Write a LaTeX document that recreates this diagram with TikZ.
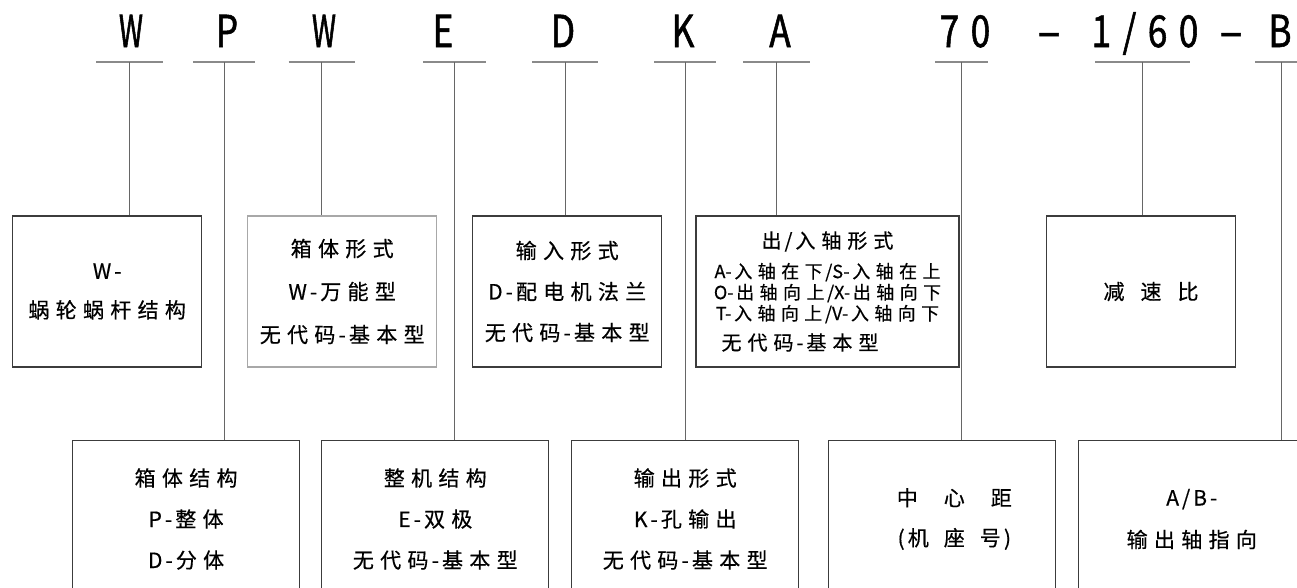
\documentclass[tikz,border=0pt]{standalone}
\usepackage{fontspec}
\usetikzlibrary{calc}
\newfontfamily\cjk[FakeBold=0.5]{Noto Sans CJK SC}
\newfontfamily\codefont[FakeStretch=0.8,FakeBold=1.2]{Noto Sans CJK SC}
\newfontfamily\codefontW[FakeStretch=0.62,FakeBold=1.2]{Noto Sans CJK SC}
\newfontfamily\codefontdash[FakeStretch=1.7,FakeBold=0.8]{Noto Sans CJK SC}
\newfontfamily\codefontsp[FakeStretch=0.8,FakeBold=1.2,LetterSpace=26]{Noto Sans CJK SC}
\definecolor{boxgray}{HTML}{3C3C3C}
\definecolor{lightbox}{HTML}{A8A8A8}
\definecolor{ulgray}{HTML}{8A8A8A}
\definecolor{vlgray}{HTML}{666666}
\newcount\cjkcnt
\cjkcnt="4E00
\loop
  \XeTeXcharclass\cjkcnt=1
  \advance\cjkcnt by 1
\ifnum\cjkcnt<"A000 \repeat
\XeTeXinterchartokenstate=1
\XeTeXinterchartoks 1 1 = {\kern0.3em}
\XeTeXinterchartoks 0 1 = {\kern0.15em}
\XeTeXinterchartoks 1 0 = {\kern0.15em}
\newcommand{\lk}{\kern3pt}
\begin{document}
\begin{tikzpicture}[x=1pt,y=-1pt,
  box/.style={draw=boxgray, line width=1.1pt, inner sep=0pt, align=center,
    font=\cjk\fontsize{21}{41}\selectfont},
  topbox/.style={box, minimum height=151pt},
  botbox/.style={box, minimum width=227pt, minimum height=157pt},
  code/.style={anchor=base, inner sep=0pt, font=\codefont\fontsize{44}{44}\selectfont},
  codeW/.style={code, font=\codefontW\fontsize{44}{44}\selectfont},
  codesp/.style={code, font=\codefontsp\fontsize{44}{44}\selectfont},
  codedash/.style={code, font=\codefontdash\fontsize{44}{44}\selectfont},
  uline/.style={draw=ulgray, line width=2pt},
  vline/.style={draw=vlgray, line width=1pt}]
\useasboundingbox (0,0) rectangle (1297,587);
\clip (0,0) rectangle (1297,587);

% code letters
\node[codeW] (cW1) at (131,47) {W};
\node[code] (cP) at (227,47) {P};
\node[codeW] (cW2) at (324,47) {W};
\node[code] (cE) at (443,47) {E};
\node[code] (cD) at (563,47) {D};
\node[code] (cK) at (683,47) {K};
\node[code] (cA) at (780,47) {A};
\node[codesp] (c70) at (965,47) {70};
\node[codedash] (cd1) at (1049,47) {-};
\node[codesp] (c160) at (1145,47) {1/60};
\node[codedash] (cd2) at (1231,47) {-};
\node[code] (cB) at (1280,47) {B};

% underline centres
\coordinate (u1) at (129.5,62);
\coordinate (u2) at (224,62);
\coordinate (u3) at (321.5,62);
\coordinate (u4) at (454.5,62);
\coordinate (u5) at (565,62);
\coordinate (u6) at (685,62);
\coordinate (u7) at (776.5,62);
\coordinate (u8) at (961.5,62);
\coordinate (u9) at (1142.5,62);
\coordinate (u10) at (1281,62);

\draw[uline] ($(u1)+(-33.5,0)$) -- ($(u1)+(33.5,0)$);
\draw[uline] ($(u2)+(-31,0)$) -- ($(u2)+(31,0)$);
\draw[uline] ($(u3)+(-33,0)$) -- ($(u3)+(33,0)$);
\draw[uline] ($(u4)+(-31.5,0)$) -- ($(u4)+(31.5,0)$);
\draw[uline] ($(u5)+(-33,0)$) -- ($(u5)+(33,0)$);
\draw[uline] ($(u6)+(-31,0)$) -- ($(u6)+(31,0)$);
\draw[uline] ($(u7)+(-33.5,0)$) -- ($(u7)+(33.5,0)$);
\draw[uline] ($(u8)+(-26.5,0)$) -- ($(u8)+(26.5,0)$);
\draw[uline] ($(u9)+(-47.5,0)$) -- ($(u9)+(47.5,0)$);
\draw[uline] ($(u10)+(-26,0)$) -- ($(u10)+(30,0)$);

% top boxes
\node[topbox, minimum width=189pt] (b1) at (107.2,291.5) {W\lk-\\[-2pt]蜗轮蜗杆结构};
\node[topbox, minimum width=189pt, draw=lightbox, font=\cjk\fontsize{21}{43}\selectfont] (b2) at (342.2,291.5)
  {箱体形式\\W\lk-万能型\\无代码-基本型};
\node[topbox, minimum width=189pt] (b3) at (567.2,291.5)
  {输入形式\\D\lk-配电机法兰\\无代码-基本型};
\node[topbox, minimum width=263pt, font=\cjk\fontsize{18}{21}\selectfont] (b4) at (827.5,291.5)
  {{\fontsize{20}{21}\selectfont 出/入轴形式}\\[9pt]
   A-入轴在下/S-入轴在上\\
   O-出轴向上/X-出轴向下\\
   T-入轴向上/V-入轴向下\\[9pt]
   {\fontsize{20}{21}\selectfont 无代码-基本型\hspace*{55pt}}};
\node[topbox, minimum width=188.6pt] (b5) at (1141,291.5)
  {\hspace*{20pt}减\hspace{16pt}速\hspace{16pt}比};

% bottom boxes
\node[botbox] (bP) at (186.1,519) {箱体结构\\P\lk-整体\\D\lk-分体};
\node[botbox] (bE) at (435.3,519) {整机结构\\E\lk-双极\\无代码-基本型};
\node[botbox] (bK) at (685.2,519) {输出形式\\K\lk-孔输出\\无代码-基本型};
\node[botbox, font=\cjk\fontsize{21}{40}\selectfont] (b70) at (942.3,519)
  {\hspace*{24pt}中\hspace{26pt}心\hspace{26pt}距\\\hspace*{24pt}(机\hspace{15pt}座\hspace{15pt}号)};
\node[botbox, font=\cjk\fontsize{21}{42}\selectfont] (bB) at (1191.8,519) {A\lk/\lk B\lk-\\输出轴指向};

% connectors
\draw[vline] (u1) -- (u1 |- b1.north);
\draw[vline] (u2) -- (u2 |- bP.north);
\draw[vline] (u3) -- (u3 |- b2.north);
\draw[vline] (u4) -- (u4 |- bE.north);
\draw[vline] (u5) -- (u5 |- b3.north);
\draw[vline] (u6) -- (u6 |- bK.north);
\draw[vline] (u7) -- (u7 |- b4.north);
\draw[vline] (u8) -- (u8 |- b70.north);
\draw[vline] (u9) -- (u9 |- b5.north);
\draw[vline] (u10) -- (u10 |- bB.north);
\end{tikzpicture}
\end{document}
